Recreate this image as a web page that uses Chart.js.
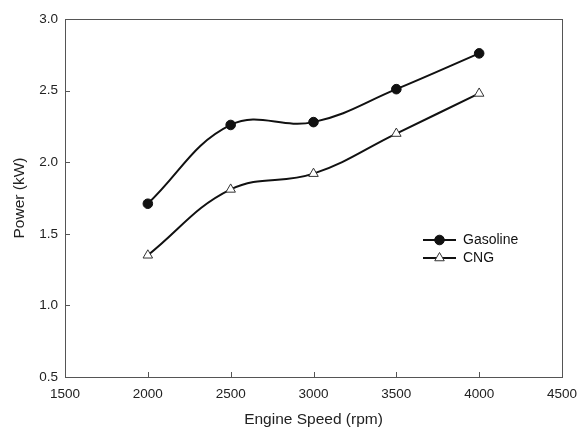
<!DOCTYPE html>
<html>
<head>
<meta charset="utf-8">
<script src="https://cdn.jsdelivr.net/npm/chart.js@4/dist/chart.umd.min.js"></script>
<style>
  html, body { margin: 0; padding: 0; background: #fff; }
  #wrap { width: 579px; height: 430px; }
</style>
</head>
<body>
<div id="wrap"><canvas id="c" width="579" height="430"></canvas></div>
<script>
const speeds = [2000, 2500, 3000, 3500, 4000];
const gasoline = [1.71, 2.26, 2.28, 2.51, 2.76];
const cng = [1.35, 1.81, 1.92, 2.20, 2.48];
const xTicks = [1500, 2000, 2500, 3000, 3500, 4000, 4500];
const yTicks = [0.5, 1.0, 1.5, 2.0, 2.5, 3.0];

const FONT = 'Liberation Sans, Arial, Helvetica, sans-serif';

// frame + inward ticks + legend inside the plot
const framePlugin = {
  id: 'frame',
  afterDraw(chart) {
    const { ctx, chartArea: a, scales } = chart;
    ctx.save();
    ctx.strokeStyle = '#555';
    ctx.lineWidth = 1;
    ctx.strokeRect(a.left + 0.5, a.top + 0.5, a.right - a.left, a.bottom - a.top);
    ctx.beginPath();
    xTicks.forEach(v => {
      const x = Math.round(scales.x.getPixelForValue(v)) + 0.5;
      ctx.moveTo(x, a.bottom);
      ctx.lineTo(x, a.bottom - 5);
    });
    yTicks.forEach(v => {
      const y = Math.round(scales.y.getPixelForValue(v)) + 0.5;
      ctx.moveTo(a.left, y);
      ctx.lineTo(a.left + 5, y);
    });
    ctx.stroke();

    // legend
    const lx = 423, items = [[240, 0], [258, 1]];
    items.forEach(([ly, i]) => {
      const ds = chart.data.datasets[i];
      ctx.strokeStyle = '#111';
      ctx.lineWidth = 2;
      ctx.beginPath();
      ctx.moveTo(lx, ly);
      ctx.lineTo(lx + 33, ly);
      ctx.stroke();
      ctx.fillStyle = ds.pointBackgroundColor;
      ctx.strokeStyle = ds.pointBorderColor;
      ctx.lineWidth = ds.pointBorderWidth;
      Chart.helpers.drawPoint(ctx, {
        pointStyle: ds.pointStyle,
        radius: ds.pointRadius,
        borderWidth: ds.pointBorderWidth
      }, lx + 16.5, ly);
      ctx.fillStyle = '#111';
      ctx.font = '14px ' + FONT;
      ctx.textBaseline = 'middle';
      ctx.fillText(ds.label, lx + 40, ly);
    });
    ctx.restore();
  }
};

new Chart(document.getElementById('c'), {
  type: 'line',
  data: {
    datasets: [
      {
        label: 'Gasoline',
        data: speeds.map((s, i) => ({ x: s, y: gasoline[i] })),
        borderColor: '#111',
        borderWidth: 2,
        tension: 0.4,
        pointStyle: 'circle',
        pointRadius: 4.8,
        pointBackgroundColor: '#111',
        pointBorderColor: '#111',
        pointBorderWidth: 1
      },
      {
        label: 'CNG',
        data: speeds.map((s, i) => ({ x: s, y: cng[i] })),
        borderColor: '#111',
        borderWidth: 2,
        tension: 0.4,
        pointStyle: 'triangle',
        pointRadius: 5.5,
        pointBackgroundColor: '#fff',
        pointBorderColor: '#333',
        pointBorderWidth: 1
      }
    ]
  },
  options: {
    responsive: false,
    animation: false,
    layout: { padding: { top: 19, right: 17, left: 0, bottom: 0 } },
    plugins: { legend: { display: false }, tooltip: { enabled: false } },
    scales: {
      x: {
        type: 'linear',
        min: 1500,
        max: 4500,
        afterBuildTicks: s => { s.ticks = xTicks.map(v => ({ value: v })); },
        afterFit: s => { s.height = 53; s.paddingLeft = 0; s.paddingRight = 0; },
        grid: { display: false, drawTicks: false },
        border: { display: false },
        ticks: { color: '#222', font: { family: FONT, size: 13.5 }, padding: 9, maxRotation: 0,
          callback: v => String(v) },
        title: { display: true, text: 'Engine Speed (rpm)', color: '#222',
          font: { family: FONT, size: 15.5 }, padding: { top: 14, bottom: 1 } }
      },
      y: {
        type: 'linear',
        min: 0.5,
        max: 3.0,
        afterBuildTicks: s => { s.ticks = yTicks.map(v => ({ value: v })); },
        afterFit: s => { s.width = 65; s.paddingTop = 0; s.paddingBottom = 0; },
        grid: { display: false, drawTicks: false },
        border: { display: false },
        ticks: { color: '#222', font: { family: FONT, size: 13.5 }, padding: 7,
          callback: v => v.toFixed(1) },
        title: { display: true, text: 'Power (kW)', color: '#222',
          font: { family: FONT, size: 15.5 }, padding: { top: 10, bottom: 0 } }
      }
    }
  },
  plugins: [framePlugin]
});
</script>
</body>
</html>
